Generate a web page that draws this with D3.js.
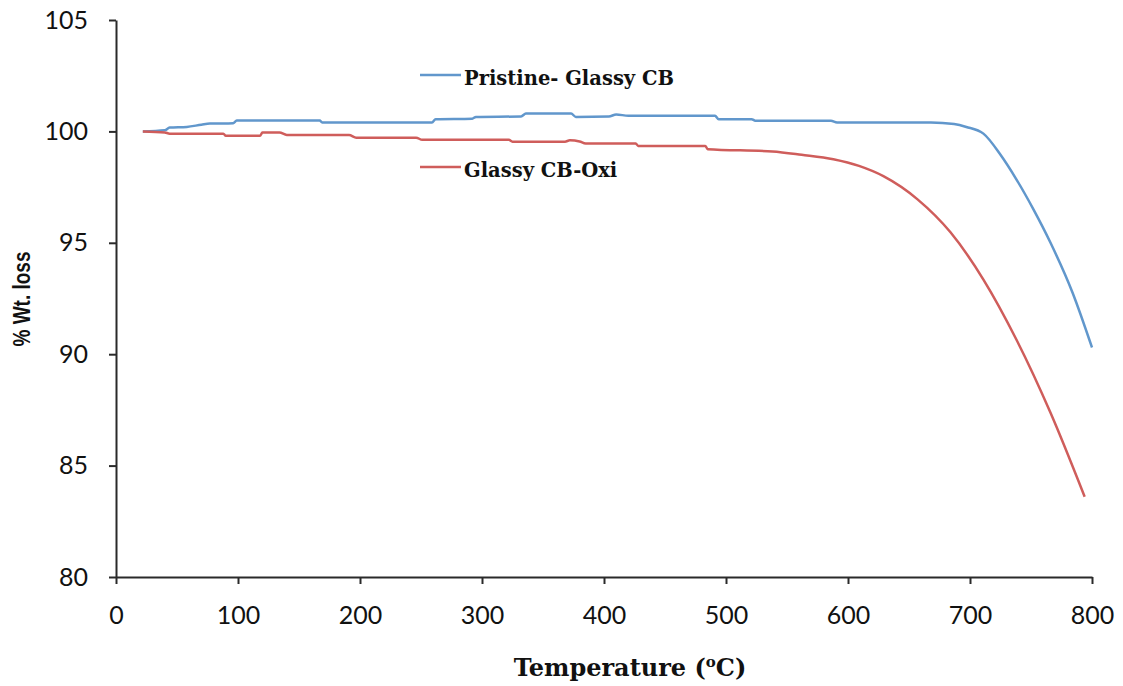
<!DOCTYPE html>
<html>
<head>
<meta charset="utf-8">
<script src="https://cdn.jsdelivr.net/npm/d3@7"></script>
<style>
  html, body { margin: 0; padding: 0; background: #fff; }
  svg { display: block; }
</style>
</head>
<body>
<svg id="chart" width="1123" height="686"></svg>
<script>
// TGA curves: temperature (°C) vs weight (%)
const pristineTemp = [22, 40, 44, 58, 70, 77, 96, 99, 167, 169, 259, 262, 292, 295, 332, 336, 373, 377, 404, 410, 420, 491, 494, 521, 524, 586, 591, 668, 687, 697, 711, 725, 738, 752, 766, 784, 800];
const pristineWt   = [100.0, 100.05, 100.17, 100.2, 100.3, 100.35, 100.37, 100.49, 100.49, 100.4, 100.4, 100.55, 100.57, 100.65, 100.67, 100.8, 100.8, 100.65, 100.67, 100.76, 100.7, 100.7, 100.55, 100.55, 100.48, 100.48, 100.4, 100.4, 100.33, 100.2, 99.9, 98.95, 97.85, 96.5, 95.0, 92.77, 90.3];

const oxiTemp = [22, 40, 44, 88, 90, 118, 120, 134, 140, 191, 197, 246, 251, 322, 325, 368, 372, 380, 385, 426, 428, 483, 485, 538, 562, 588, 609, 629, 657, 684, 711, 738, 766, 794];
const oxiWt   = [100.0, 99.95, 99.9, 99.9, 99.8, 99.8, 99.95, 99.95, 99.84, 99.84, 99.72, 99.72, 99.62, 99.62, 99.54, 99.54, 99.6, 99.55, 99.46, 99.46, 99.35, 99.35, 99.2, 99.1, 98.95, 98.75, 98.45, 97.99, 96.95, 95.47, 93.35, 90.66, 87.37, 83.6];

const seriesNames = ["Pristine- Glassy CB", "Glassy CB-Oxi"];
const seriesColors = ["#6197cc", "#cf5d5b"];

const xTicks = [0, 100, 200, 300, 400, 500, 600, 700, 800];
const yTicks = [80, 85, 90, 95, 100, 105];

const svg = d3.select("#chart");

const x = d3.scaleLinear().domain([0, 800]).range([116, 1092]);
const y = d3.scaleLinear().domain([80, 105]).range([577, 20]);

const tickFont = "Lato, 'Open Sans', sans-serif";
const serifBold = "'DejaVu Serif', 'Liberation Serif', serif";

// axes
const xAxis = svg.append("g")
  .attr("transform", `translate(0,${y(80)})`)
  .call(d3.axisBottom(x).tickValues(xTicks).tickSize(7).tickSizeOuter(0).tickPadding(22));
const yAxis = svg.append("g")
  .attr("transform", `translate(${x(0)},0)`)
  .call(d3.axisLeft(y).tickValues(yTicks).tickSize(7).tickSizeOuter(0).tickPadding(21));

[xAxis, yAxis].forEach(g => {
  g.select(".domain").attr("stroke", "#2a2a2a").attr("stroke-width", 2);
  g.selectAll(".tick line").attr("stroke", "#2a2a2a").attr("stroke-width", 2);
  g.selectAll(".tick text")
    .attr("fill", "#111")
    .style("font-family", tickFont)
    .style("font-size", "25px");
});

// curves
const line = d3.line()
  .x(d => x(d[0]))
  .y(d => y(d[1]))
  .curve(d3.curveMonotoneX);
const series = [
  d3.zip(pristineTemp, pristineWt),
  d3.zip(oxiTemp, oxiWt)
];
series.forEach((pts, i) => {
  svg.append("path")
    .datum(pts)
    .attr("d", line)
    .attr("fill", "none")
    .attr("stroke", seriesColors[i])
    .attr("stroke-width", 2.5)
    .attr("stroke-linejoin", "round");
});

// legend
const legendRows = [75, 167];
seriesNames.forEach((name, i) => {
  svg.append("line")
    .attr("x1", 420).attr("x2", 461)
    .attr("y1", legendRows[i]).attr("y2", legendRows[i])
    .attr("stroke", seriesColors[i]).attr("stroke-width", 2.5);
  svg.append("text")
    .attr("x", 464).attr("y", legendRows[i] + 10)
    .attr("fill", "#111")
    .style("font-family", serifBold)
    .style("font-weight", "bold")
    .style("font-size", "19.5px")
    .text(name);
});

// axis titles
const xTitle = svg.append("text")
  .attr("x", 630).attr("y", 676)
  .attr("text-anchor", "middle")
  .attr("fill", "#111")
  .style("font-family", serifBold)
  .style("font-weight", "bold")
  .style("font-size", "24px");
xTitle.append("tspan").text("Temperature (");
xTitle.append("tspan").attr("dy", -9).style("font-size", "15px").text("o");
xTitle.append("tspan").attr("dy", 9).text("C)");

svg.append("text")
  .attr("transform", `translate(30,299) rotate(-90)`)
  .attr("text-anchor", "middle")
  .attr("fill", "#111")
  .attr("textLength", 95)
  .attr("lengthAdjust", "spacingAndGlyphs")
  .style("font-family", "'Liberation Sans', Arial, sans-serif")
  .style("font-weight", "bold")
  .style("font-size", "24px")
  .text("% Wt. loss");
</script>
</body>
</html>
